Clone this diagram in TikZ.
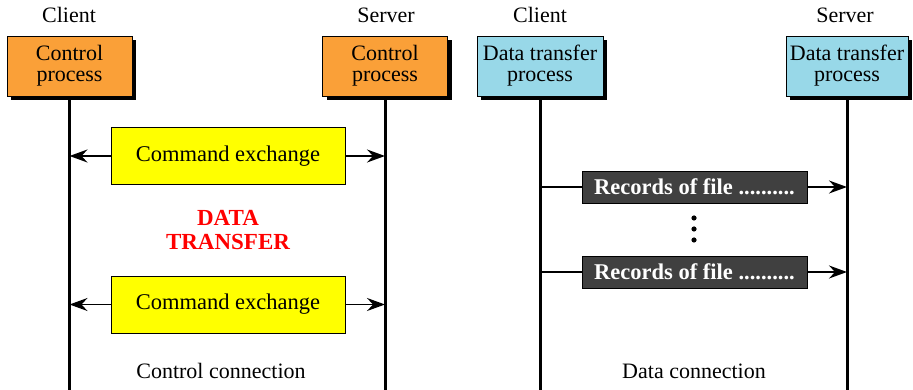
\documentclass[tikz,border=0pt]{standalone}
\usepackage{fontspec}
\setmainfont{Liberation Serif}
\usetikzlibrary{arrows.meta,shadows}
\definecolor{orangeC}{RGB}{250,160,56}
\definecolor{cyanC}{RGB}{152,216,232}
\definecolor{yellowC}{RGB}{255,255,0}
\definecolor{darkC}{RGB}{64,64,64}
\tikzset{
  txt/.style={font=\fontsize{22}{20}\selectfont, inner sep=0pt},
  proc/.style={draw=black, line width=0.8pt, align=center, minimum height=60pt, inner sep=0pt,
     font=\fontsize{22}{21}\selectfont,
     drop shadow={shadow xshift=4pt, shadow yshift=-4pt, opacity=1, fill=black}},
  cmdbox/.style={draw=black, line width=0.8pt, fill=yellowC, minimum width=234pt, minimum height=57pt,
     font=\fontsize{22.5}{20}\selectfont},
  recbox/.style={draw=black, line width=0.6pt, fill=darkC, text=white, minimum width=225pt, minimum height=32pt,
     inner sep=0pt, font=\fontsize{22.5}{20}\selectfont\bfseries},
  life/.style={line width=3pt},
  msg/.style={line width=1.5pt, -{Stealth[length=18pt,width=13pt,inset=6pt]}},
}
\begin{document}
\begin{tikzpicture}[x=1pt,y=1pt]
\useasboundingbox (0,0) rectangle (913,-390);
% labels
\node[txt] (lc1) at (69,-15) {Client};
\node[txt] (ls1) at (386,-15) {Server};
\node[txt] (lc2) at (540,-15) {Client};
\node[txt] (ls2) at (845,-15) {Server};
% process boxes
\node[proc, fill=orangeC, minimum width=125pt] (cc) at (69.5,-66) {Control\\process};
\node[proc, fill=orangeC, minimum width=125pt] (sc) at (385,-66) {Control\\process};
\node[proc, fill=cyanC, minimum width=126pt] (cd) at (540,-66) {Data transfer\\process};
\node[proc, fill=cyanC, minimum width=122pt] (sd) at (847,-66) {Data transfer\\process};
% bottom ends of lifelines
\coordinate (ccb) at (cc.south |- 0,-392);
\coordinate (scb) at (sc.south |- 0,-392);
\coordinate (cdb) at (cd.south |- 0,-392);
\coordinate (sdb) at (sd.south |- 0,-392);
\draw[life] (cc.south) -- (ccb);
\draw[life] (sc.south) -- (scb);
\draw[life] (cd.south) -- (cdb);
\draw[life] (sd.south) -- (sdb);
% command exchanges
\node[cmdbox] (ce1) at (228,-156) {Command exchange};
\node[cmdbox] (ce2) at (228,-304.5) {Command exchange};
\draw[msg] (ce1.west) -- (ce1.west -| cc.south);
\draw[msg] (ce1.east) -- (ce1.east -| sc.south);
\draw[msg] (ce2.west) -- (ce2.west -| cc.south);
\draw[msg] (ce2.east) -- (ce2.east -| sc.south);
% data transfer label
\node[align=center, text=red, inner sep=0pt, font=\fontsize{23}{24}\selectfont\bfseries] (dt) at (228,-230) {DATA\\TRANSFER};
% records
\node[recbox] (r1) at (694.5,-187) {Records of file ..........};
\node[recbox] (r2) at (694.5,-272) {Records of file ..........};
\draw[line width=1.5pt] (r1.west -| cd.south) -- (r1.west);
\draw[msg] (r1.east) -- (r1.east -| sd.south);
\draw[line width=1.5pt] (r2.west -| cd.south) -- (r2.west);
\draw[msg] (r2.east) -- (r2.east -| sd.south);
% dots
\fill (694,-218) circle (2.6) (694,-229) circle (2.6) (694,-240) circle (2.6);
% connection labels
\node[txt] (lcc) at (221,-371) {Control connection};
\node[txt] (ldc) at (694,-371) {Data connection};
\end{tikzpicture}
\end{document}
